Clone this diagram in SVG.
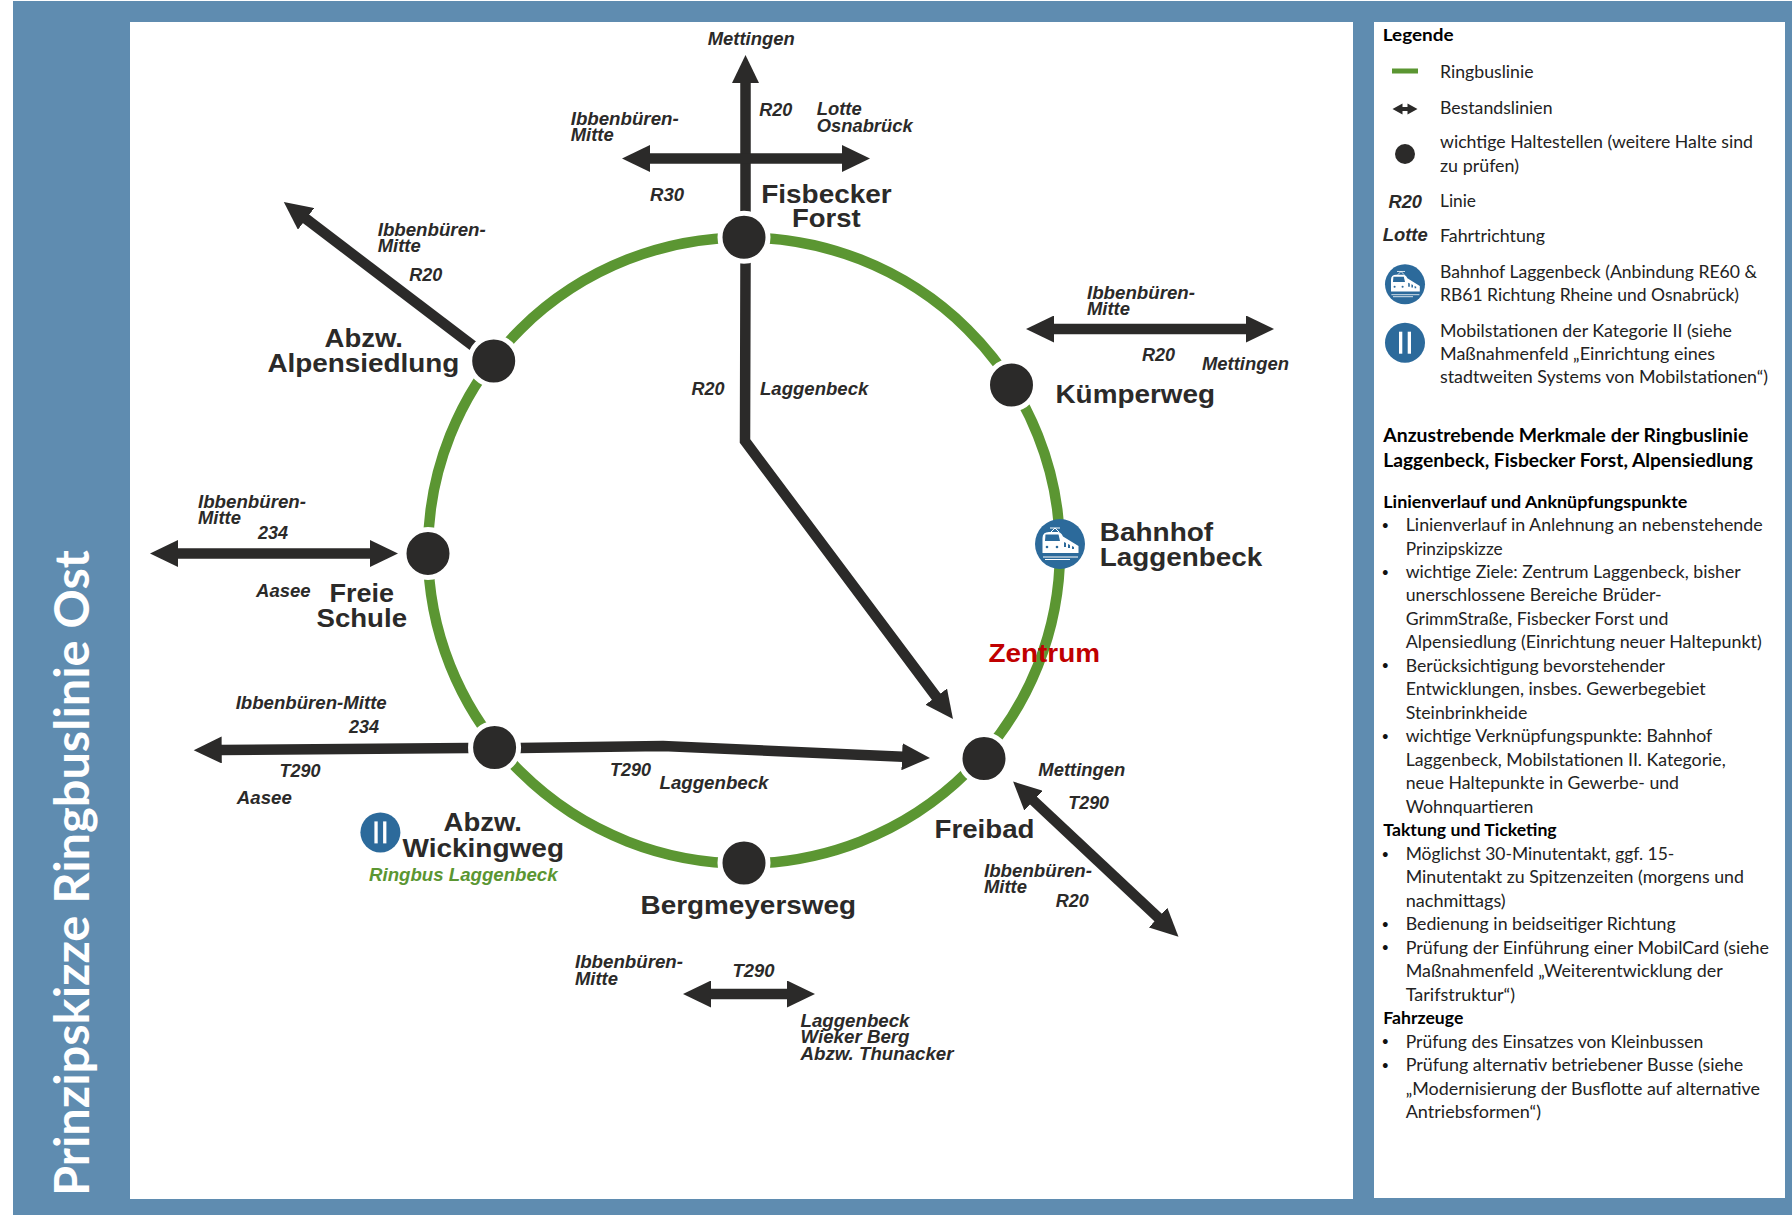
<svg xmlns="http://www.w3.org/2000/svg" width="1792" height="1215" viewBox="0 0 1792 1215">
<style>
.a{stroke:#2b2a29;stroke-width:10.5;fill:none;stroke-linejoin:miter}
.ae{marker-end:url(#h)}
.as{marker-start:url(#h)}
.dot{fill:#2b2a29;stroke:#fff;stroke-width:5}
.l{font:italic bold 17.5px "Liberation Sans",Arial,sans-serif;fill:#2b2a29}
.n{font:bold 26px "Liberation Sans",Arial,sans-serif;fill:#2b2a29}
.t{font:17.5px Lato,"Open Sans",sans-serif;fill:#222}
.bu{font:13px Lato,"Open Sans",sans-serif;fill:#111}
.b{font:bold 17.5px Lato,"Open Sans",sans-serif;fill:#000}
.h{font:bold 19.5px Lato,"Open Sans",sans-serif;fill:#000}
.ic{fill:#2c6a9b}
.w{fill:#fff}
</style>
<defs>
<marker id="h" markerUnits="userSpaceOnUse" markerWidth="29" markerHeight="27" refX="1" refY="13.5" orient="auto-start-reverse"><path d="M0,0L28,13.5L0,27z" fill="#2b2a29"/></marker>
<g id="train"><circle r="25" class="ic"/>
<path class="w" d="M-17.500,9V-6Q-17.500,-12 -11,-12H-2Q1,-12 3,-7.500L18.500,2V9z"/>
<path class="ic" d="M-14.500,-9.500H-1.500L0,-3H-15z"/>
<path d="M-9,-12L-5,-16M-1,-12L-5,-16M-10,-16H0M-17,13H18M-15,15.500H10" stroke="#fff" stroke-width="1" fill="none"/>
<path class="ic" d="M4,-2l2,1v4h-2zM8,0l2,1v3h-2zM12,2l2,1v2h-2z"/>
<circle class="ic" cx="-13" cy="3" r="1.300"/><circle class="ic" cx="-3" cy="3" r="1.300"/></g>
<g id="mob"><circle r="20" class="ic"/><rect class="w" x="-6" y="-11" width="3.300" height="22"/><rect class="w" x="2.700" y="-11" width="3.300" height="22"/></g>
</defs>

<rect x="13" y="1" width="1779" height="1214" fill="#5f8cb0"/>
<rect x="130" y="22" width="1223" height="1177" fill="#fff"/>
<rect x="1374" y="22" width="411" height="1176" fill="#fff"/>
<text transform="translate(89,1196) rotate(-90)" textLength="646" lengthAdjust="spacingAndGlyphs" style="font:bold 47px Lato,'Open Sans',sans-serif;fill:#fff">Prinzipskizze Ringbuslinie Ost</text>

<g id="connectors">
<ellipse id="ring" cx="744" cy="550.500" rx="316" ry="313" fill="none" stroke="#5b9632" stroke-width="10.500"/>
<path class="a ae" d="M745.500,212V82"/>
<path class="a ae as" d="M649,158.500H843"/>
<path class="a ae" d="M745.500,262L745,441L936.800,697.500"/>
<path class="a ae" d="M473.500,346.300L305.300,218.300"/>
<path class="a ae as" d="M1053,329H1247"/>
<path class="a ae as" d="M177,553.500H371"/>
<path class="a ae" d="M468.600,748L220.700,750"/>
<path class="a ae" d="M519.600,748L663,746L903,756.700"/>
<path class="a ae as" d="M1032.800,800L1158.800,918.200"/>
<path class="a ae as" d="M710,994H788"/>
</g>

<g id="route-labels">
<text class="l" x="707.700" y="45" textLength="87" lengthAdjust="spacingAndGlyphs">Mettingen</text>
<text class="l" x="759.300" y="116" textLength="33" lengthAdjust="spacingAndGlyphs">R20</text>
<text class="l" x="816.700" y="115" textLength="45" lengthAdjust="spacingAndGlyphs">Lotte</text>
<text class="l" x="816.700" y="132" textLength="96" lengthAdjust="spacingAndGlyphs">Osnabrück</text>
<text class="l" x="570.700" y="125" textLength="108" lengthAdjust="spacingAndGlyphs">Ibbenbüren-</text>
<text class="l" x="570.700" y="141" textLength="43" lengthAdjust="spacingAndGlyphs">Mitte</text>
<text class="l" x="650" y="201" textLength="34" lengthAdjust="spacingAndGlyphs">R30</text>
<text class="l" x="377.700" y="236" textLength="108" lengthAdjust="spacingAndGlyphs">Ibbenbüren-</text>
<text class="l" x="377.700" y="252.300" textLength="43" lengthAdjust="spacingAndGlyphs">Mitte</text>
<text class="l" x="409.300" y="280.700" textLength="33" lengthAdjust="spacingAndGlyphs">R20</text>
<text class="l" x="691.500" y="394.500" textLength="33" lengthAdjust="spacingAndGlyphs">R20</text>
<text class="l" x="760" y="395" textLength="108.300" lengthAdjust="spacingAndGlyphs">Laggenbeck</text>
<text class="l" x="1087" y="298.500" textLength="108" lengthAdjust="spacingAndGlyphs">Ibbenbüren-</text>
<text class="l" x="1087" y="314.500" textLength="43" lengthAdjust="spacingAndGlyphs">Mitte</text>
<text class="l" x="1142" y="360.500" textLength="33" lengthAdjust="spacingAndGlyphs">R20</text>
<text class="l" x="1202" y="369.500" textLength="87" lengthAdjust="spacingAndGlyphs">Mettingen</text>
<text class="l" x="198" y="507.500" textLength="108" lengthAdjust="spacingAndGlyphs">Ibbenbüren-</text>
<text class="l" x="198" y="523.700" textLength="43" lengthAdjust="spacingAndGlyphs">Mitte</text>
<text class="l" x="258" y="539" textLength="30" lengthAdjust="spacingAndGlyphs">234</text>
<text class="l" x="256" y="596.800" textLength="54.600" lengthAdjust="spacingAndGlyphs">Aasee</text>
<text class="l" x="235.700" y="708.700" textLength="151" lengthAdjust="spacingAndGlyphs">Ibbenbüren-Mitte</text>
<text class="l" x="349" y="733" textLength="30" lengthAdjust="spacingAndGlyphs">234</text>
<text class="l" x="279.600" y="777" textLength="41" lengthAdjust="spacingAndGlyphs">T290</text>
<text class="l" x="236.800" y="804" textLength="55" lengthAdjust="spacingAndGlyphs">Aasee</text>
<text class="l" x="610" y="776" textLength="41" lengthAdjust="spacingAndGlyphs">T290</text>
<text class="l" x="659.500" y="788.600" textLength="109" lengthAdjust="spacingAndGlyphs">Laggenbeck</text>
<text class="l" x="1038.300" y="776" textLength="87" lengthAdjust="spacingAndGlyphs">Mettingen</text>
<text class="l" x="1068.300" y="809" textLength="40.700" lengthAdjust="spacingAndGlyphs">T290</text>
<text class="l" x="984" y="876.500" textLength="108" lengthAdjust="spacingAndGlyphs">Ibbenbüren-</text>
<text class="l" x="984" y="892.700" textLength="43" lengthAdjust="spacingAndGlyphs">Mitte</text>
<text class="l" x="1055.700" y="907.300" textLength="33" lengthAdjust="spacingAndGlyphs">R20</text>
<text class="l" x="575" y="967.500" textLength="108" lengthAdjust="spacingAndGlyphs">Ibbenbüren-</text>
<text class="l" x="575" y="984.500" textLength="43" lengthAdjust="spacingAndGlyphs">Mitte</text>
<text class="l" x="732.600" y="976.500" textLength="42" lengthAdjust="spacingAndGlyphs">T290</text>
<text class="l" x="800.500" y="1027" textLength="109" lengthAdjust="spacingAndGlyphs">Laggenbeck</text>
<text class="l" x="800.500" y="1043" textLength="109" lengthAdjust="spacingAndGlyphs">Wieker Berg</text>
<text class="l" x="800.500" y="1059.500" textLength="153" lengthAdjust="spacingAndGlyphs">Abzw. Thunacker</text>
</g>

<g id="node-fisbecker-forst"><circle class="dot" cx="744" cy="237.300" r="24"/>
<text class="n" x="761.200" y="202.700" textLength="130.500" lengthAdjust="spacingAndGlyphs">Fisbecker</text>
<text class="n" x="792" y="227.300" textLength="68.700" lengthAdjust="spacingAndGlyphs">Forst</text></g>
<g id="node-alpensiedlung"><circle class="dot" cx="493.700" cy="361" r="24"/>
<text class="n" x="324.500" y="346.700" textLength="78.500" lengthAdjust="spacingAndGlyphs">Abzw.</text>
<text class="n" x="267.400" y="371.700" textLength="192" lengthAdjust="spacingAndGlyphs">Alpensiedlung</text></g>
<g id="node-kuemperweg"><circle class="dot" cx="1011.500" cy="385" r="24"/>
<text class="n" x="1055.500" y="403" textLength="159.500" lengthAdjust="spacingAndGlyphs">Kümperweg</text></g>
<g id="node-bahnhof"><use href="#train" x="1060" y="544"/>
<text class="n" x="1099.700" y="540.700" textLength="113.500" lengthAdjust="spacingAndGlyphs">Bahnhof</text>
<text class="n" x="1099.700" y="566" textLength="162.500" lengthAdjust="spacingAndGlyphs">Laggenbeck</text></g>
<g id="node-zentrum"><text class="n" x="988.500" y="662.300" textLength="111.500" lengthAdjust="spacingAndGlyphs" style="fill:#c00000">Zentrum</text></g>
<g id="node-freibad"><circle class="dot" cx="984" cy="758.500" r="24"/>
<text class="n" x="934.500" y="838" textLength="100" lengthAdjust="spacingAndGlyphs">Freibad</text></g>
<g id="node-bergmeyersweg"><circle class="dot" cx="744" cy="863" r="24"/>
<text class="n" x="640.500" y="914" textLength="215.500" lengthAdjust="spacingAndGlyphs">Bergmeyersweg</text></g>
<g id="node-wickingweg"><circle class="dot" cx="494.600" cy="747.500" r="24"/>
<use href="#mob" x="380.400" y="832.400"/>
<text class="n" x="443.500" y="831" textLength="78.500" lengthAdjust="spacingAndGlyphs">Abzw.</text>
<text class="n" x="402.500" y="857" textLength="161.500" lengthAdjust="spacingAndGlyphs">Wickingweg</text>
<text class="l" x="369" y="881" textLength="188.600" lengthAdjust="spacingAndGlyphs" style="fill:#5b9632">Ringbus Laggenbeck</text></g>
<g id="node-freie-schule"><circle class="dot" cx="428" cy="553.400" r="24"/>
<text class="n" x="329.500" y="601.800" textLength="64.500" lengthAdjust="spacingAndGlyphs">Freie</text>
<text class="n" x="316.500" y="627" textLength="90.500" lengthAdjust="spacingAndGlyphs">Schule</text></g>

<g id="legend">
<text class="b" x="1382.700" y="41" textLength="71" lengthAdjust="spacingAndGlyphs">Legende</text>
<rect x="1392" y="68.500" width="26" height="5" fill="#5b9632"/>
<text class="t" x="1440" y="78" textLength="93.500" lengthAdjust="spacingAndGlyphs">Ringbuslinie</text>
<path d="M1392.500,109L1402.500,103.500V107H1407.500V103.500L1417.500,109L1407.500,114.500V111H1402.500V114.500z" fill="#2b2a29"/>
<text class="t" x="1440" y="113.700" textLength="112.500" lengthAdjust="spacingAndGlyphs">Bestandslinien</text>
<circle cx="1405" cy="154" r="10" fill="#2b2a29"/>
<text class="t" x="1440" y="148" textLength="313" lengthAdjust="spacingAndGlyphs">wichtige Haltestellen (weitere Halte sind</text>
<text class="t" x="1440" y="172" textLength="79" lengthAdjust="spacingAndGlyphs">zu prüfen)</text>
<text class="l" x="1388.500" y="208" textLength="33.500" lengthAdjust="spacingAndGlyphs">R20</text>
<text class="t" x="1440" y="207" textLength="36" lengthAdjust="spacingAndGlyphs">Linie</text>
<text class="l" x="1382.700" y="240.700" textLength="45" lengthAdjust="spacingAndGlyphs">Lotte</text>
<text class="t" x="1440" y="242" textLength="105" lengthAdjust="spacingAndGlyphs">Fahrtrichtung</text>
<use href="#train" transform="translate(1405,284.300) scale(.8)"/>
<text class="t" x="1440" y="278" textLength="317" lengthAdjust="spacingAndGlyphs">Bahnhof Laggenbeck (Anbindung RE60 &amp;</text>
<text class="t" x="1440" y="301" textLength="299" lengthAdjust="spacingAndGlyphs">RB61 Richtung Rheine und Osnabrück)</text>
<use href="#mob" x="1405" y="342.700"/>
<text class="t" x="1440" y="337" textLength="292" lengthAdjust="spacingAndGlyphs">Mobilstationen der Kategorie II (siehe</text>
<text class="t" x="1440" y="360" textLength="275" lengthAdjust="spacingAndGlyphs">Maßnahmenfeld „Einrichtung eines</text>
<text class="t" x="1440" y="383" textLength="328" lengthAdjust="spacingAndGlyphs">stadtweiten Systems von Mobilstationen“)</text>
</g>

<g id="description">
<text class="h" x="1383.300" y="441.700" textLength="365" lengthAdjust="spacingAndGlyphs">Anzustrebende Merkmale der Ringbuslinie</text>
<text class="h" x="1383.300" y="467.300" textLength="369.500" lengthAdjust="spacingAndGlyphs">Laggenbeck, Fisbecker Forst, Alpensiedlung</text>
<text class="b" x="1383.300" y="507.700" textLength="304" lengthAdjust="spacingAndGlyphs">Linienverlauf und Anknüpfungspunkte</text>
<text class="bu" x="1381.500" y="529.500">•</text>
<text class="t" x="1405.700" y="531" textLength="357" lengthAdjust="spacingAndGlyphs">Linienverlauf in Anlehnung an nebenstehende</text>
<text class="t" x="1405.700" y="554.500" textLength="97" lengthAdjust="spacingAndGlyphs">Prinzipskizze</text>
<text class="bu" x="1381.500" y="576.500">•</text>
<text class="t" x="1405.700" y="578" textLength="335" lengthAdjust="spacingAndGlyphs">wichtige Ziele: Zentrum Laggenbeck, bisher</text>
<text class="t" x="1405.700" y="601.400" textLength="256" lengthAdjust="spacingAndGlyphs">unerschlossene Bereiche Brüder-</text>
<text class="t" x="1405.700" y="624.900" textLength="262.600" lengthAdjust="spacingAndGlyphs">GrimmStraße, Fisbecker Forst und</text>
<text class="t" x="1405.700" y="648.400" textLength="356" lengthAdjust="spacingAndGlyphs">Alpensiedlung (Einrichtung neuer Haltepunkt)</text>
<text class="bu" x="1381.500" y="670.300">•</text>
<text class="t" x="1405.700" y="671.800" textLength="259.300" lengthAdjust="spacingAndGlyphs">Berücksichtigung bevorstehender</text>
<text class="t" x="1405.700" y="695.300" textLength="300" lengthAdjust="spacingAndGlyphs">Entwicklungen, insbes. Gewerbegebiet</text>
<text class="t" x="1405.700" y="718.800" textLength="121.600" lengthAdjust="spacingAndGlyphs">Steinbrinkheide</text>
<text class="bu" x="1381.500" y="740.700">•</text>
<text class="t" x="1405.700" y="742.200" textLength="306.600" lengthAdjust="spacingAndGlyphs">wichtige Verknüpfungspunkte: Bahnhof</text>
<text class="t" x="1405.700" y="765.700" textLength="320" lengthAdjust="spacingAndGlyphs">Laggenbeck, Mobilstationen II. Kategorie,</text>
<text class="t" x="1405.700" y="789.200" textLength="273.300" lengthAdjust="spacingAndGlyphs">neue Haltepunkte in Gewerbe- und</text>
<text class="t" x="1405.700" y="812.600" textLength="127.600" lengthAdjust="spacingAndGlyphs">Wohnquartieren</text>
<text class="b" x="1383.300" y="836" textLength="173.400" lengthAdjust="spacingAndGlyphs">Taktung und Ticketing</text>
<text class="bu" x="1381.500" y="858.500">•</text>
<text class="t" x="1405.700" y="860" textLength="268.600" lengthAdjust="spacingAndGlyphs">Möglichst 30-Minutentakt, ggf. 15-</text>
<text class="t" x="1405.700" y="883" textLength="338.300" lengthAdjust="spacingAndGlyphs">Minutentakt zu Spitzenzeiten (morgens und</text>
<text class="t" x="1405.700" y="906.500" textLength="100" lengthAdjust="spacingAndGlyphs">nachmittags)</text>
<text class="bu" x="1381.500" y="928.500">•</text>
<text class="t" x="1405.700" y="930" textLength="270" lengthAdjust="spacingAndGlyphs">Bedienung in beidseitiger Richtung</text>
<text class="bu" x="1381.500" y="952.200">•</text>
<text class="t" x="1405.700" y="953.700" textLength="363.300" lengthAdjust="spacingAndGlyphs">Prüfung der Einführung einer MobilCard (siehe</text>
<text class="t" x="1405.700" y="977" textLength="317" lengthAdjust="spacingAndGlyphs">Maßnahmenfeld „Weiterentwicklung der</text>
<text class="t" x="1405.700" y="1000.600" textLength="109.300" lengthAdjust="spacingAndGlyphs">Tarifstruktur“)</text>
<text class="b" x="1383.300" y="1024" textLength="80" lengthAdjust="spacingAndGlyphs">Fahrzeuge</text>
<text class="bu" x="1381.500" y="1046.200">•</text>
<text class="t" x="1405.700" y="1047.700" textLength="297.600" lengthAdjust="spacingAndGlyphs">Prüfung des Einsatzes von Kleinbussen</text>
<text class="bu" x="1381.500" y="1069.500">•</text>
<text class="t" x="1405.700" y="1071" textLength="337.600" lengthAdjust="spacingAndGlyphs">Prüfung alternativ betriebener Busse (siehe</text>
<text class="t" x="1405.700" y="1094.700" textLength="354.300" lengthAdjust="spacingAndGlyphs">„Modernisierung der Busflotte auf alternative</text>
<text class="t" x="1405.700" y="1118" textLength="135.300" lengthAdjust="spacingAndGlyphs">Antriebsformen“)</text>
</g>
</svg>
